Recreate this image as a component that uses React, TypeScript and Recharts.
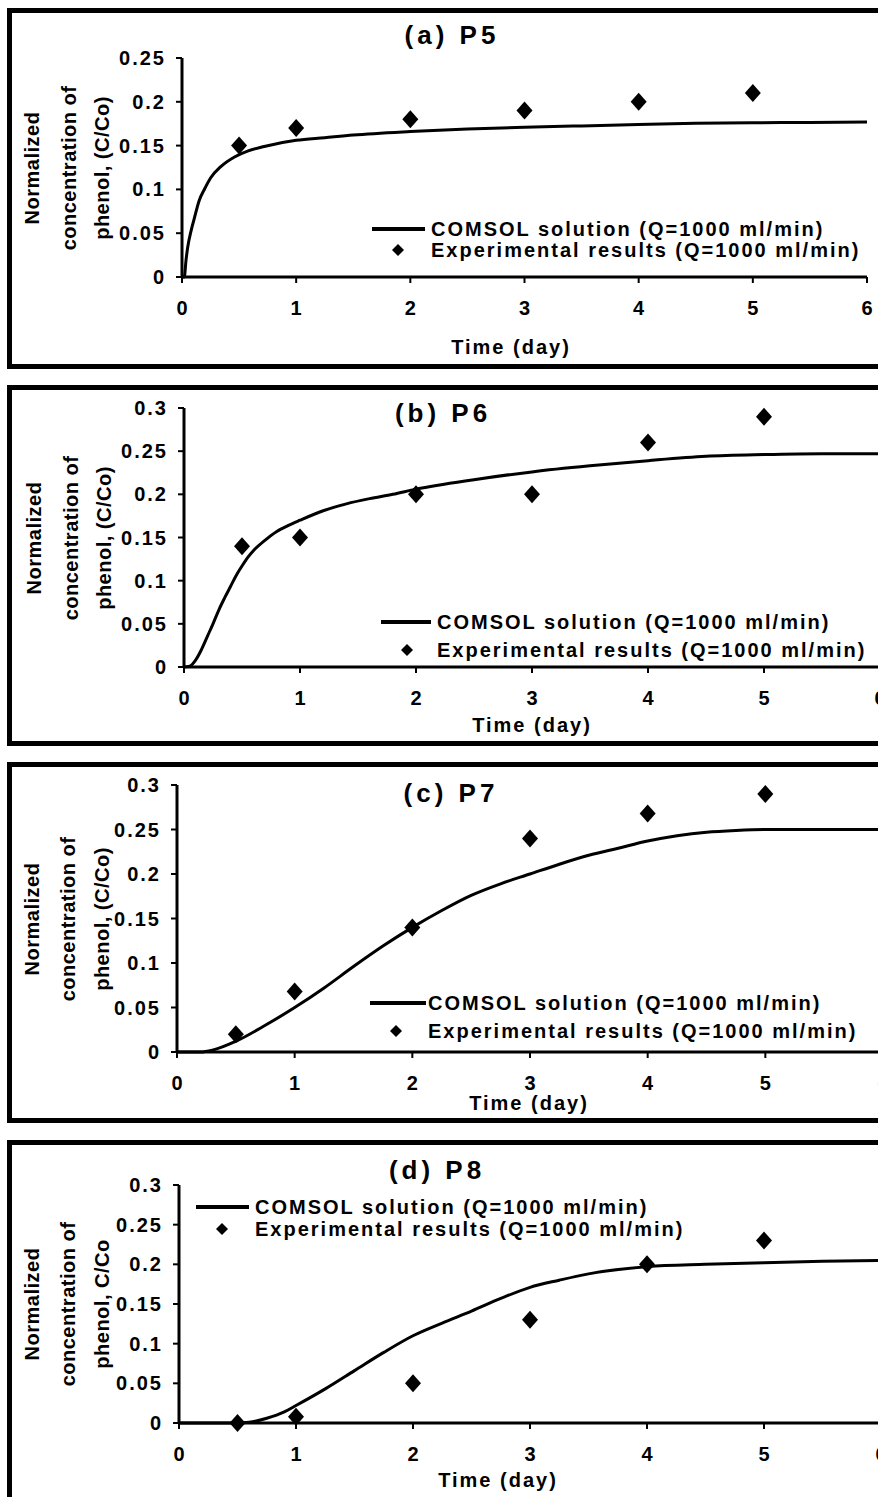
import React from 'react';
import { ComposedChart, Line, Scatter, XAxis, YAxis } from 'recharts';

const FONT = '"Liberation Sans", Arial, Helvetica, sans-serif';

// Shared axis ticks
const timeTicks = [0, 1, 2, 3, 4, 5, 6];
const concTicks25 = [0, 0.05, 0.1, 0.15, 0.2, 0.25];
const concTicks30 = [0, 0.05, 0.1, 0.15, 0.2, 0.25, 0.3];

// Sampling days of the experimental measurements
const expTime = [0.5, 1, 2, 3, 4, 5];

// (a) P5
const p5ModelTime = [0, 0.02, 0.035, 0.05, 0.08, 0.11, 0.15, 0.2, 0.25, 0.34, 0.46, 0.58, 0.72, 1, 1.25, 1.5, 2, 2.5, 3, 3.5, 4, 4.5, 5, 5.5, 6];
const p5ModelConc = [0, 0, 0.019, 0.034, 0.053, 0.068, 0.087, 0.101, 0.113, 0.126, 0.137, 0.144, 0.149, 0.156, 0.159, 0.162, 0.166, 0.169, 0.171, 0.1725, 0.174, 0.1755, 0.176, 0.1765, 0.177];
const p5ExpConc = [0.15, 0.17, 0.18, 0.19, 0.2, 0.21];

// (b) P6
const p6ModelTime = [0, 0.05, 0.1, 0.15, 0.2, 0.25, 0.3, 0.35, 0.4, 0.45, 0.5, 0.55, 0.6, 0.7, 0.8, 0.9, 1, 1.2, 1.4, 1.6, 1.8, 2, 2.5, 3, 3.5, 4, 4.5, 5, 5.5, 6];
const p6ModelConc = [0, 0.001, 0.008, 0.02, 0.035, 0.05, 0.066, 0.08, 0.093, 0.106, 0.117, 0.127, 0.135, 0.147, 0.157, 0.164, 0.17, 0.181, 0.189, 0.195, 0.2, 0.206, 0.217, 0.226, 0.233, 0.239, 0.244, 0.246, 0.247, 0.247];
const p6ExpConc = [0.14, 0.15, 0.2, 0.2, 0.26, 0.29];

// (c) P7
const p7ModelTime = [0, 0.2, 0.3, 0.5, 0.75, 1, 1.25, 1.5, 1.75, 2, 2.25, 2.5, 2.75, 3, 3.25, 3.5, 3.75, 4, 4.25, 4.5, 4.75, 5, 5.5, 6];
const p7ModelConc = [0, 0, 0.002, 0.012, 0.03, 0.05, 0.072, 0.096, 0.119, 0.14, 0.159, 0.176, 0.189, 0.2, 0.211, 0.221, 0.229, 0.237, 0.243, 0.247, 0.249, 0.25, 0.25, 0.25];
const p7ExpConc = [0.02, 0.068, 0.14, 0.24, 0.268, 0.29];

// (d) P8
const p8ModelTime = [0, 0.5, 0.6, 0.75, 0.9, 1, 1.25, 1.5, 1.75, 2, 2.25, 2.5, 2.75, 3, 3.25, 3.5, 4, 4.5, 5, 5.5, 6];
const p8ModelConc = [0, 0, 0.001, 0.006, 0.014, 0.022, 0.043, 0.066, 0.089, 0.11, 0.126, 0.141, 0.157, 0.171, 0.18, 0.188, 0.197, 0.2, 0.202, 0.204, 0.205];
const p8ExpConc = [0, 0.008, 0.05, 0.13, 0.2, 0.23];

const modelLabel = 'COMSOL solution (Q=1000 ml/min)';
const expLabel = 'Experimental results (Q=1000 ml/min)';
const xTitle = 'Time (day)';

type PanelDef = {
  id: string;
  title: string;
  yTitle: string[];
  modelT: number[];
  modelC: number[];
  expC: number[];
  yMax: number;
  yTicks: number[];
  box: { top: number; bottom: number };
  plot: { left: number; right: number; top: number; bottom: number };
  titleAt: [number, number];
  xTitleAt: [number, number];
  yTitleX: number[];
  legend: { x1: number; x2: number; tx: number; y1: number; y2: number; dx: number };
};

const panels: PanelDef[] = [
  {
    id: 'a', title: '(a) P5',
    yTitle: ['Normalized', 'concentration of', 'phenol, (C/Co)'],
    modelT: p5ModelTime, modelC: p5ModelConc, expC: p5ExpConc,
    yMax: 0.25, yTicks: concTicks25,
    box: { top: 8, bottom: 369 },
    plot: { left: 182, right: 867, top: 58, bottom: 277 },
    titleAt: [452, 35], xTitleAt: [511, 347], yTitleX: [32, 69, 102],
    legend: { x1: 372, x2: 425, tx: 431, y1: 229, y2: 250, dx: 398 },
  },
  {
    id: 'b', title: '(b) P6',
    yTitle: ['Normalized', 'concentration of', 'phenol, (C/Co)'],
    modelT: p6ModelTime, modelC: p6ModelConc, expC: p6ExpConc,
    yMax: 0.3, yTicks: concTicks30,
    box: { top: 385, bottom: 746 },
    plot: { left: 184, right: 880, top: 408, bottom: 667 },
    titleAt: [443, 413], xTitleAt: [532, 725], yTitleX: [34, 71, 104],
    legend: { x1: 381, x2: 431, tx: 437, y1: 622, y2: 650, dx: 407 },
  },
  {
    id: 'c', title: '(c) P7',
    yTitle: ['Normalized', 'concentration of', 'phenol, (C/Co)'],
    modelT: p7ModelTime, modelC: p7ModelConc, expC: p7ExpConc,
    yMax: 0.3, yTicks: concTicks30,
    box: { top: 762, bottom: 1123 },
    plot: { left: 177, right: 883, top: 785, bottom: 1052 },
    titleAt: [451, 793], xTitleAt: [529, 1103], yTitleX: [32, 68, 102],
    legend: { x1: 370, x2: 426, tx: 428, y1: 1003, y2: 1031, dx: 396 },
  },
  {
    id: 'd', title: '(d) P8',
    yTitle: ['Normalized', 'concentration of', 'phenol, C/Co'],
    modelT: p8ModelTime, modelC: p8ModelConc, expC: p8ExpConc,
    yMax: 0.3, yTicks: concTicks30,
    box: { top: 1140, bottom: 1520 },
    plot: { left: 179, right: 881, top: 1185, bottom: 1423 },
    titleAt: [437, 1170], xTitleAt: [498, 1480], yTitleX: [32, 68, 102],
    legend: { x1: 196, x2: 249, tx: 255, y1: 1207, y2: 1229, dx: 222 },
  },
];

const CHART_W = 900;
const Y_AXIS_W = 100;
const X_AXIS_H = 40;
const LABEL_SIZE = 20;
const LABEL_SPACING = 2;

const textBase: React.CSSProperties = {
  position: 'absolute',
  fontFamily: FONT,
  fontWeight: 'bold',
  color: '#000',
  whiteSpace: 'nowrap',
  lineHeight: 1,
};

const renderDiamond = (props: any) => {
  const { cx, cy } = props;
  if (cx == null || cy == null) return <g />;
  const w = 8;
  const h = 9;
  return (
    <polygon
      points={`${cx},${cy - h} ${cx + w},${cy} ${cx},${cy + h} ${cx - w},${cy}`}
      fill="#000"
    />
  );
};

const renderXTick = (props: any) => {
  const { x, y, payload } = props;
  return (
    <text x={x} y={y + 30} textAnchor="middle" fontFamily={FONT} fontSize={LABEL_SIZE} fontWeight="bold" fill="#000">
      {String(payload.value)}
    </text>
  );
};

const renderYTick = (props: any) => {
  const { x, y, payload } = props;
  return (
    <text x={x} y={y + 7} textAnchor="end" fontFamily={FONT} fontSize={LABEL_SIZE} fontWeight="bold" fill="#000" letterSpacing={LABEL_SPACING}>
      {String(payload.value)}
    </text>
  );
};

function Panel({ p }: { p: PanelDef }) {
  const chartH = p.box.bottom - p.box.top;
  const margin = {
    top: p.plot.top - p.box.top,
    left: p.plot.left - Y_AXIS_W,
    right: CHART_W - p.plot.right,
    bottom: chartH - (p.plot.bottom - p.box.top) - X_AXIS_H,
  };
  const model = p.modelT.map((t, i) => ({ t, c: p.modelC[i] }));
  const measured = expTime.map((t, i) => ({ t, c: p.expC[i] }));
  const lg = p.legend;

  return (
    <>
      <div
        style={{
          position: 'absolute',
          left: 7,
          top: p.box.top,
          width: 920,
          height: chartH,
          border: '5px solid #000',
          boxSizing: 'border-box',
        }}
      />
      <div style={{ position: 'absolute', left: 0, top: p.box.top }}>
        <ComposedChart width={CHART_W} height={chartH} data={model} margin={margin}>
          <XAxis
            type="number"
            dataKey="t"
            domain={[0, 6]}
            ticks={timeTicks}
            height={X_AXIS_H}
            axisLine={{ stroke: '#000', strokeWidth: 3 }}
            tickLine={{ stroke: '#000', strokeWidth: 2 }}
            tickSize={6}
            tickMargin={2}
            tick={renderXTick}
            interval={0}
          />
          <YAxis
            type="number"
            domain={[0, p.yMax]}
            ticks={p.yTicks}
            width={Y_AXIS_W}
            axisLine={{ stroke: '#000', strokeWidth: 3 }}
            tickLine={{ stroke: '#000', strokeWidth: 2 }}
            tickSize={6}
            tickMargin={10}
            tick={renderYTick}
            interval={0}
          />
          <Line
            type="monotone"
            dataKey="c"
            stroke="#000"
            strokeWidth={3}
            dot={false}
            activeDot={false}
            isAnimationActive={false}
          />
          <Scatter data={measured} dataKey="c" fill="#000" shape={renderDiamond} isAnimationActive={false} />
        </ComposedChart>
      </div>

      {/* panel title */}
      <div
        style={{
          ...textBase,
          left: p.titleAt[0],
          top: p.titleAt[1],
          fontSize: 26,
          letterSpacing: 4,
          transform: 'translate(-50%, -50%)',
        }}
      >
        {p.title}
      </div>

      {/* x-axis title */}
      <div
        style={{
          ...textBase,
          left: p.xTitleAt[0],
          top: p.xTitleAt[1],
          fontSize: LABEL_SIZE,
          letterSpacing: LABEL_SPACING,
          transform: 'translate(-50%, -50%)',
        }}
      >
        {xTitle}
      </div>

      {/* y-axis title, three rotated lines */}
      {p.yTitle.map((line, i) => (
        <div
          key={line}
          style={{
            ...textBase,
            left: p.yTitleX[i],
            top: (p.plot.top + p.plot.bottom) / 2,
            fontSize: LABEL_SIZE,
            letterSpacing: 0.5,
            transform: 'translate(-50%, -50%) rotate(-90deg)',
          }}
        >
          {line}
        </div>
      ))}

      {/* legend */}
      <div
        style={{
          position: 'absolute',
          left: lg.x1,
          top: lg.y1 - 2,
          width: lg.x2 - lg.x1,
          height: 4,
          background: '#000',
        }}
      />
      <svg
        width={14}
        height={14}
        style={{ position: 'absolute', left: lg.dx - 7, top: lg.y2 - 7 }}
      >
        <polygon points="7,1 13,7 7,13 1,7" fill="#000" />
      </svg>
      <div
        style={{
          ...textBase,
          left: lg.tx,
          top: lg.y1,
          fontSize: LABEL_SIZE,
          letterSpacing: LABEL_SPACING,
          transform: 'translateY(-50%)',
        }}
      >
        {modelLabel}
      </div>
      <div
        style={{
          ...textBase,
          left: lg.tx,
          top: lg.y2,
          fontSize: LABEL_SIZE,
          letterSpacing: LABEL_SPACING,
          transform: 'translateY(-50%)',
        }}
      >
        {expLabel}
      </div>
    </>
  );
}

export default function App() {
  return (
    <div
      style={{
        position: 'absolute',
        left: 0,
        top: 0,
        width: 878,
        height: 1497,
        overflow: 'hidden',
        background: '#fff',
      }}
    >
      {panels.map((p) => (
        <Panel key={p.id} p={p} />
      ))}
    </div>
  );
}
